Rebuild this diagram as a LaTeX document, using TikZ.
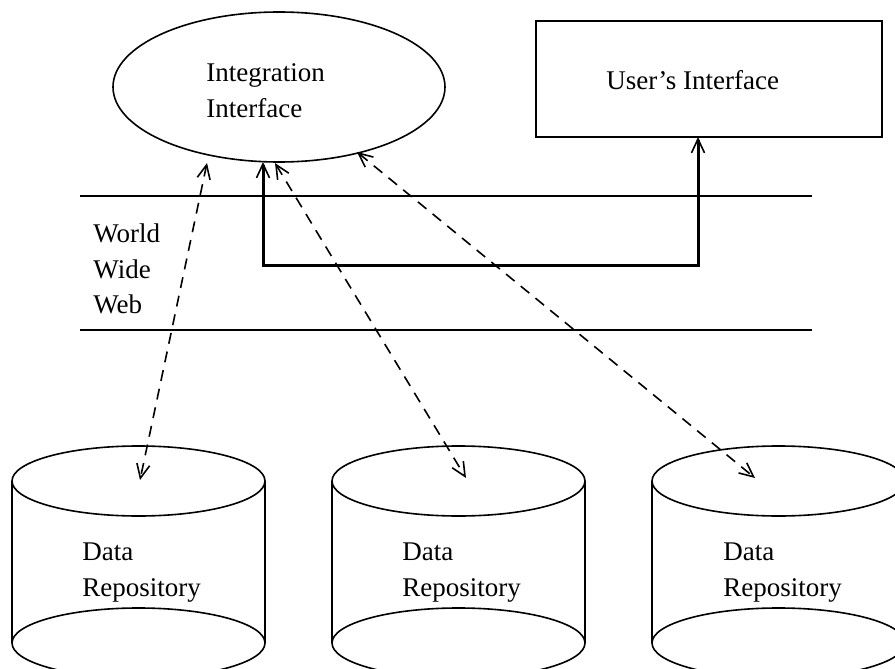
\documentclass[tikz,border=0pt]{standalone}
\usepackage{fontspec}
\setmainfont{Liberation Serif}
\usetikzlibrary{arrows.meta,shapes.geometric}

\tikzset{
  thin line/.style={line width=0.8pt},
  label text/.style={font=\fontsize{13.5}{18}\selectfont, inner sep=0pt, anchor=base west},
  tip/.tip={Straight Barb[length=7pt,width=6.5pt,line width=0.8pt]},
  link/.style={thin line, dash pattern=on 5.5pt off 4pt, tip-tip},
  feed/.style={line width=1.5pt, tip-tip},
}

% Cylinder drawn from its top-ellipse centre: #1 = x, #2 = name prefix
\newcommand{\repo}[2]{%
  \draw[thin line] (#1,481) ellipse [x radius=126.5, y radius=35];
  \draw[thin line] (#1,643) ellipse [x radius=126.5, y radius=35];
  \draw[thin line] (#1-126.5,481) -- (#1-126.5,643);
  \draw[thin line] (#1+126.5,481) -- (#1+126.5,643);
}

\begin{document}
\begin{tikzpicture}[x=0.5pt,y=-0.5pt]
\useasboundingbox (0,0) rectangle (895,669);
\clip (0,0) rectangle (895,669);

% Integration interface
\node[draw, thin line, ellipse, minimum width=166pt, minimum height=75pt, inner sep=0pt] (ii) at (279,87) {};
\node[label text] (ii1) at (206,81) {Integration};
\node[label text] (ii2) at (206,117) {Interface};

% User's interface
\node[draw, thin line, rectangle, minimum width=173pt, minimum height=58pt, inner sep=0pt] (ui) at (709,79) {};
\node[label text] (uit) at (606,90) {User’s Interface};

% World Wide Web band
\coordinate (w1l) at (80,196);  \coordinate (w1r) at (812,196);
\coordinate (w2l) at (80,330);  \coordinate (w2r) at (812,330);
\draw[thin line] (w1l) -- (w1r);
\draw[thin line] (w2l) -- (w2r);
\node[label text] (www1) at (93,242) {World};
\node[label text] (www2) at (93,278) {Wide};
\node[label text] (www3) at (93,313) {Web};

% Data repositories
\repo{138.5}{r1}
\repo{458.5}{r2}
\repo{778.5}{r3}
\node[label text] (d1a) at (82,560) {Data};
\node[label text] (d1b) at (82,596) {Repository};
\node[label text] (d2a) at (402,560) {Data};
\node[label text] (d2b) at (402,596) {Repository};
\node[label text] (d3a) at (723,560) {Data};
\node[label text] (d3b) at (723,596) {Repository};

% Connector end points
\coordinate (a1) at (207,163);
\coordinate (a2) at (275,163);
\coordinate (a3) at (357,152);
\coordinate (b1) at (140,480);
\coordinate (b2) at (466,478);
\coordinate (b3) at (755,478);
\coordinate (f0) at (263,162);
\coordinate (f1) at (263,265);
\coordinate (f2) at (698,265);
\coordinate (f3) at (698,137);

% Links between the interface and the repositories
\draw[link] (a1) -- (b1);
\draw[link] (a2) -- (b2);
\draw[link] (a3) -- (b3);

% Link between the two interfaces
\draw[feed] (f0) -- (f1) -- (f2) -- (f3);
\end{tikzpicture}
\end{document}
